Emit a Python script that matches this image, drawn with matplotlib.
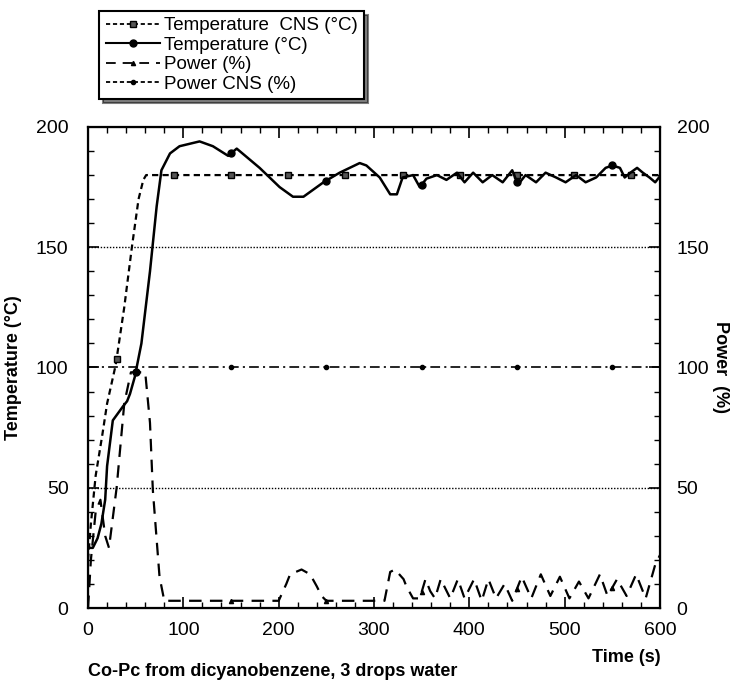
import numpy as np
import matplotlib.pyplot as plt
from matplotlib.lines import Line2D

plt.rcParams['font.family'] = ['Liberation Sans', 'DejaVu Sans']
plt.rcParams['lines.scale_dashes'] = False

# Temperature CNS set point (°C)
t_cns = [0, 3, 8, 15, 20, 29, 38, 46, 53, 58, 61, 600]
temp_cns = [20, 35, 55, 72, 85, 101, 125, 150, 170, 178, 180, 180]
cns_marks = [30, 90, 150, 210, 270, 330, 390, 450, 510, 570]

# measured temperature (°C)
t_temp = [0, 5, 10, 14, 18, 20, 26, 37, 41, 44, 49, 56, 65, 72, 77, 86, 96, 117, 131,
          147, 156, 180, 201, 215, 226, 247, 264, 285, 292, 306, 317, 324, 330, 341,
          348, 355, 366, 376, 387, 395, 404, 414, 424, 435, 445, 451, 459, 470, 480,
          491, 501, 512, 522, 533, 543, 550, 558, 563, 569, 576, 582, 589, 595, 599]
temp = [25, 25, 29, 35, 45, 59, 78, 84, 86, 89, 96, 110, 140, 167, 182, 189, 192, 194, 192,
        188, 191, 183, 175, 171, 171, 177, 181, 185, 184, 179, 172, 172, 179, 180,
        175, 178.5, 180, 178, 181, 177, 181, 177, 180, 177, 182, 176, 180, 177, 181,
        179, 177, 180, 177, 179, 183, 184, 183, 179, 181, 183, 181, 179, 177, 179]
temp_marks = [50, 150, 250, 350, 450, 550]

# power (%)
t_pow = [0, 3, 8, 13, 18, 22, 30, 38, 45, 60, 65, 68, 75, 80, 200, 208, 212, 224, 233,
         240, 245, 250, 311, 317, 322, 331, 334, 341, 348, 354, 359, 364, 370, 380, 388,
         395, 405, 413, 420, 428, 437, 445, 455, 465, 475, 485, 495, 505, 515, 525, 537,
         545, 555, 565, 575, 585, 595, 600]
power = [0, 20, 40, 45, 30, 25, 50, 85, 98, 98, 77, 49, 13, 3, 3, 10, 14, 16, 14,
         9, 5, 3, 3, 15, 16, 12, 9, 4, 4, 12, 7, 4, 12, 4, 12,
         4, 12, 3, 12, 4, 10, 3, 13, 4, 14, 5, 13, 4, 11, 4, 14,
         5, 12, 5, 14, 4, 18, 22]
pow_marks = [150, 250, 350, 450, 550]

# power CNS (%)
t_pcns = [0, 600]
pow_cns = [100, 100]
pcns_marks = [150, 250, 350, 450, 550]

fig = plt.figure(figsize=(7.36, 6.86), dpi=100)
ax = fig.add_axes([0.1196, 0.1137, 0.7771, 0.7012])

ax.axhline(50, color='black', lw=1, dashes=(1, 1.2))
ax.axhline(150, color='black', lw=1, dashes=(1, 1.2))

ax.plot(t_pcns, pow_cns, color='black', lw=1.2, dashes=(7, 3, 1.5, 3))
ax.plot(pcns_marks, np.interp(pcns_marks, t_pcns, pow_cns), 'o', color='black', ms=3)

ax.plot(t_cns, temp_cns, color='black', lw=1.6, dashes=(4.5, 3))
ax.plot(cns_marks, np.interp(cns_marks, t_cns, temp_cns), 's', ms=5,
        mfc='#555555', mec='black', mew=1)

ax.plot(t_temp, temp, color='black', lw=1.8)
ax.plot(temp_marks, np.interp(temp_marks, t_temp, temp), 'o', color='black', ms=5)

ax.plot(t_pow, power, color='black', lw=1.6, dashes=(9, 6))
ax.plot(pow_marks, np.interp(pow_marks, t_pow, power), '^', color='black', ms=3)

ax.set_xlim(0, 600)
ax.set_ylim(0, 200)
ax.set_xticks(range(0, 601, 100))
ax.set_xticks(range(0, 601, 20), minor=True)
ax.set_yticks(range(0, 201, 50))
ax.set_yticks(range(0, 201, 10), minor=True)
ax.tick_params(which='both', direction='in', top=True, labelsize=14)
ax.tick_params(axis='x', pad=10)
ax.tick_params(axis='y', pad=14)
ax.tick_params(which='major', length=8, width=1.2)
ax.tick_params(which='minor', length=4, width=1)
for s in ax.spines.values():
    s.set_linewidth(1.6)
ax.set_ylabel('Temperature (°C)', fontsize=13, fontweight='bold', labelpad=10)

ax2 = ax.twinx()
ax2.set_ylim(0, 200)
ax2.set_yticks(range(0, 201, 50))
ax2.set_yticks(range(0, 201, 10), minor=True)
ax2.tick_params(which='both', direction='in', labelsize=14, pad=12)
ax2.tick_params(which='major', length=8, width=1.2)
ax2.tick_params(which='minor', length=4, width=1)
ax2.set_ylabel('Power  (%)', fontsize=13, fontweight='bold', rotation=-90, labelpad=14)

fig.text(0.897, 1 - 658 / 686, 'Time (s)', fontsize=13, fontweight='bold',
         ha='right', va='center')
fig.text(0.12, 1 - 672 / 686, 'Co-Pc from dicyanobenzene, 3 drops water',
         fontsize=13, fontweight='bold', va='center')

handles = [
    Line2D([], [], color='black', lw=1.3, dashes=(3, 2), marker='s', ms=4, mfc='#555555'),
    Line2D([], [], color='black', lw=1.5, marker='o', ms=5),
    Line2D([], [], color='black', lw=1.3, dashes=(7, 5), marker='^', ms=3),
    Line2D([], [], color='black', lw=1.3, dashes=(3, 2), marker='o', ms=3),
]
labels = ['Temperature  CNS (°C)', 'Temperature (°C)', 'Power (%)', 'Power CNS (%)']
leg = fig.legend(handles, labels, loc='upper left', bbox_to_anchor=(0.122, 0.998),
                 fontsize=13.5, handlelength=2.9, handletextpad=0.2, labelspacing=0.12,
                 borderpad=0.35, fancybox=False, edgecolor='black', framealpha=1,
                 shadow={'color': 'black', 'ox': 3, 'oy': -3})
leg.get_frame().set_linewidth(1.5)

fig.savefig('out.png', dpi=100)
